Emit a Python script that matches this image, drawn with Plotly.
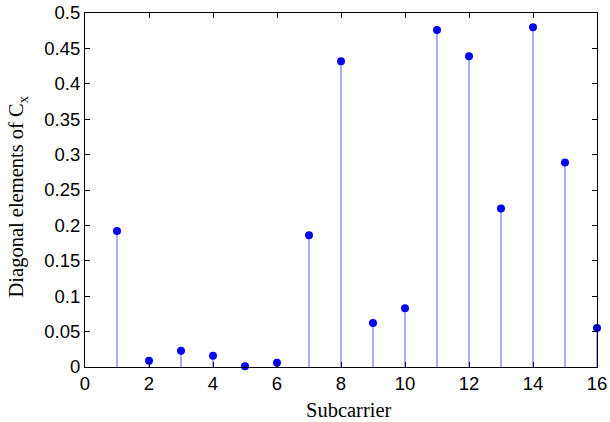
import plotly.graph_objects as go

subcarrier = list(range(1, 17))
cx_diag = [0.192, 0.009, 0.023, 0.016, 0.001, 0.006, 0.186, 0.432,
           0.062, 0.083, 0.476, 0.439, 0.224, 0.480, 0.289, 0.055]
x_ticks = [0, 2, 4, 6, 8, 10, 12, 14, 16]
y_ticks = [0, 0.05, 0.1, 0.15, 0.2, 0.25, 0.3, 0.35, 0.4, 0.45, 0.5]
y_tick_text = ["0", "0.05", "0.1", "0.15", "0.2", "0.25", "0.3", "0.35", "0.4", "0.45", "0.5"]
x_title = "Subcarrier"
y_title = "Diagonal elements of C<sub>x</sub>"

stem_x, stem_y = [], []
for xv, yv in zip(subcarrier, cx_diag):
    stem_x += [xv, xv, None]
    stem_y += [0, yv, None]

fig = go.Figure()
fig.add_trace(go.Scatter(x=stem_x, y=stem_y, mode="lines",
                         line=dict(color="#5a5aff", width=1), hoverinfo="skip"))
fig.add_trace(go.Scatter(x=subcarrier, y=cx_diag, mode="markers",
                         marker=dict(color="#0000ff", size=8), cliponaxis=False))

tick_font = dict(family="Liberation Sans, Arial", size=18.5, color="black")
title_font = dict(family="Liberation Serif, Times New Roman", size=20.5, color="black")
axis_common = dict(showgrid=False, zeroline=False, showline=True, linecolor="black",
                   linewidth=1, mirror="ticks", ticks="inside", ticklen=5,
                   tickcolor="black", tickfont=tick_font, automargin=False)
fig.update_xaxes(range=[0, 16], tickvals=x_ticks, **axis_common)
fig.update_yaxes(range=[0, 0.5], tickvals=y_ticks, ticktext=y_tick_text, **axis_common)

fig.add_annotation(text=x_title, xref="paper", yref="paper", x=0.5166, y=-0.085,
                   xanchor="center", yanchor="top", showarrow=False, font=title_font)
fig.add_annotation(text=y_title, xref="paper", yref="paper", x=-0.131, y=0.4816,
                   xanchor="center", yanchor="middle", textangle=-90,
                   showarrow=False, font=title_font)

fig.update_layout(template="none", width=610, height=422, showlegend=False,
                  plot_bgcolor="white", paper_bgcolor="white",
                  margin=dict(l=85, r=13, t=13, b=55))
fig.write_html("out.html")
